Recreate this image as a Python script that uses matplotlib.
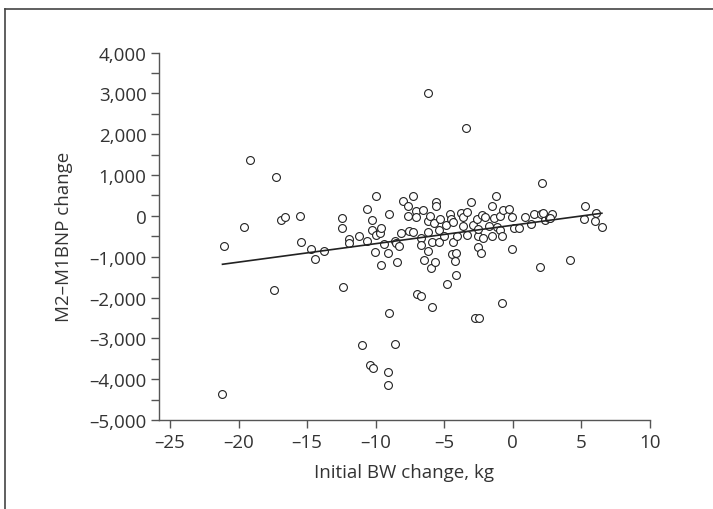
import numpy as np
import matplotlib.pyplot as plt
from matplotlib.ticker import FuncFormatter, MultipleLocator
from matplotlib.lines import Line2D

# ----------------------------
# Data
# ----------------------------
bw_change = [
    -21.17, -10.99, -10.40, -10.23, -9.07, -9.07, -8.60, -9.02, -5.86, -2.75,
    -2.46, -12.39, -7.00, -6.66, -4.77, -0.80, -17.45,
    -21.09, -19.58, -19.17, -17.27, -16.91, -16.60, -15.52, -15.45, -14.72,
    -14.41, -13.75, -12.49, -12.49, -11.98,
    -6.15, -3.38, 2.14, 5.29, 6.07, 5.20, 6.02, 6.49, 4.18, 1.99, -0.07,
    -4.15, -9.60, -8.45, -10.04, -9.07, -6.49, -6.00, -5.64, -4.47, -4.18,
    -4.25, -2.53, -2.31,
    -10.01, -11.93, -11.22, -10.60, -10.60, -10.25, -10.25, -9.96, -9.67,
    -9.60, -9.38, -9.02, -8.58, -8.50, -8.29, -8.19, -7.99, -7.63, -7.63,
    -7.29, -7.58, -7.29, -7.05, -7.05, -6.56, -6.66, -6.66, -6.20, -6.20,
    -5.88, -6.20, -6.03, -5.74, -5.57, -5.57, -5.39, -5.39, -5.28, -4.99,
    -4.84, -4.60, -4.52, -4.37, -4.33, -4.08, -3.77, -3.64, -3.60, -3.33,
    -3.31, -3.06, -2.92, -2.62, -2.51, -2.51, -2.26, -2.19, -2.02, -1.73,
    -1.53, -1.49, -1.38, -1.24, -1.17, -0.93, -0.93, -0.80, -0.69, -0.27,
    -0.05, 0.12, 0.44, 0.92, 1.36, 1.51, 2.08, 2.35, 2.67, 2.89, 2.23, 2.72,
]
bnp_change = [
    -4351, -3160, -3650, -3715, -3830, -4148, -3136, -2367, -2220, -2506,
    -2506, -1754, -1918, -1975, -1666, -2146, -1813,
    -750, -270, 1372, 956, -105, -32, 0, -644, -808,
    -1061, -865, -56, -294, -571,
    3006, 2156, 809, 245, 59, -81, -137, -269, -1069, -1264, -816,
    -1453, -1208, -1142, -897, -906, -1069, -1289, -1134, -938, -906,
    -1110, -759, -906,
    475, -669, -490, 157, -612, -98, -350, -473, -424,
    -294, -677, 34, -612, -669, -735, -416, 353, 245, 0,
    475, -375, -383, 123, -25, 147, -539, -710, -137, -407,
    -652, -857, -15, -186, 336, 238, -343, -637, -81, -490,
    -220, 34, -81, -652, -162, -490, 66, -25, -245, -466,
    83, 343, -220, -81, -505, -326, 25, -554, -25, -245,
    -490, 230, -64, 490, -269, -15, -343, -505, 147, 164,
    -25, -294, -294, -39, -203, 49, 49, -105, -56, 49, 59, -64,
]

# linear fit as drawn in the reference
FIT_SLOPE = 45.2
FIT_INTERCEPT = -229.0

X_TICKS = [-25, -20, -15, -10, -5, 0, 5, 10]
Y_TICKS = [-5000, -4000, -3000, -2000, -1000, 0, 1000, 2000, 3000, 4000]

# ----------------------------
# Style
# ----------------------------
plt.rcParams["font.family"] = ["Open Sans", "DejaVu Sans"]
plt.rcParams["font.size"] = 13.5
TEXT_C = "#333333"
AX_C = "#555555"

fig = plt.figure(figsize=(7.13, 5.10), dpi=100)
ax = fig.add_axes([0.223, 0.1745, 0.9116 - 0.223, 0.895 - 0.1745])

x = np.array(bw_change)
y = np.array(bnp_change)

ax.scatter(x, y, s=32, facecolors="white", edgecolors="#222222",
           linewidths=0.8, zorder=3)

xf = np.array([x.min(), x.max()])
ax.plot(xf, FIT_INTERCEPT + FIT_SLOPE * xf, color="#222222", lw=1.2, zorder=4)

ax.set_xlim(-25.8, 10)
ax.set_ylim(-5000, 4000)
ax.set_xticks(X_TICKS)
ax.set_yticks(Y_TICKS)
ax.yaxis.set_minor_locator(MultipleLocator(500))

fmt = FuncFormatter(lambda v, p: f"{v:,.0f}".replace("-", "\u2013"))
ax.yaxis.set_major_formatter(fmt)
ax.xaxis.set_major_formatter(fmt)

for side in ["top", "right"]:
    ax.spines[side].set_visible(False)
for side in ["left", "bottom"]:
    ax.spines[side].set_color(AX_C)
    ax.spines[side].set_linewidth(1.0)
ax.spines["bottom"].set_bounds(-25.8, 10)

ax.tick_params(axis="both", which="both", direction="out", color=AX_C,
               labelcolor=TEXT_C, width=1.0)
ax.tick_params(axis="both", which="major", length=6, pad=3)
ax.tick_params(axis="y", which="minor", length=6)

ax.set_xlabel("Initial BW change, kg", color=TEXT_C, labelpad=9)
ax.set_ylabel("M2\u2013M1BNP change", color=TEXT_C, labelpad=12)

# outer frame (top and left edges)
fig.add_artist(Line2D([5 / 713, 1.0], [1 - 10 / 510, 1 - 10 / 510],
                      transform=fig.transFigure, color="#444444", lw=1.2))
fig.add_artist(Line2D([5 / 713, 5 / 713], [0.0, 1 - 10 / 510],
                      transform=fig.transFigure, color="#444444", lw=1.2))

fig.savefig("out.png", dpi=100)
